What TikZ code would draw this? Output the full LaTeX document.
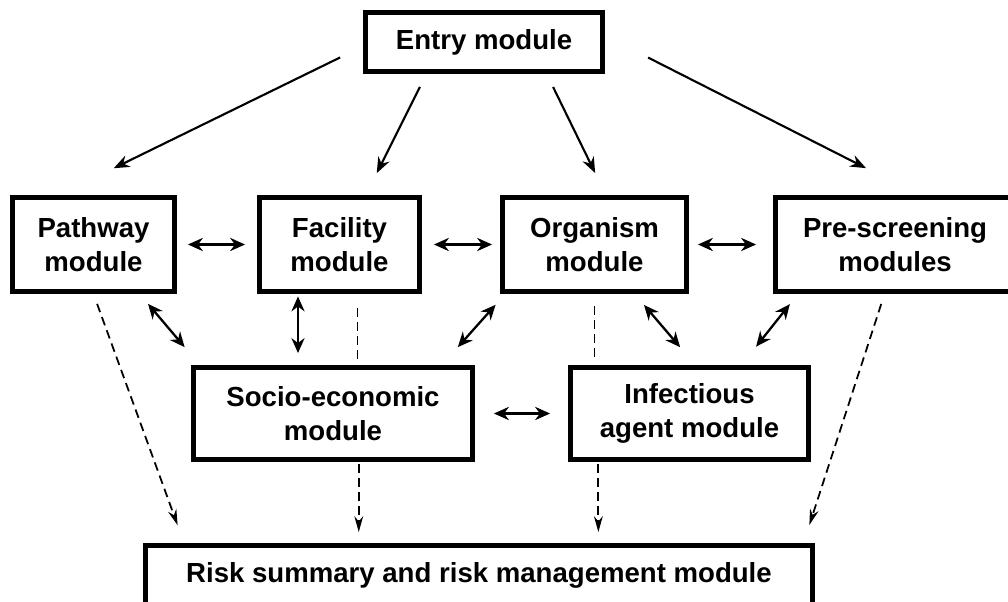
\documentclass[tikz,border=0pt]{standalone}
\usepackage{fontspec}
\setmainfont{Liberation Sans}
\usetikzlibrary{arrows.meta,calc}

\tikzset{
  module/.style={draw, rectangle, line width=2.8pt, align=center, inner sep=0pt,
    font=\bfseries\fontsize{15.7}{19.3}\selectfont},
  feed/.style={line width=1.2pt, -{Stealth[length=9pt,width=7pt]}},
  link/.style={line width=1.3pt, {Stealth[length=8.5pt,width=7.5pt]}-{Stealth[length=8.5pt,width=7.5pt]}},
  flow/.style={line width=1pt, dash pattern=on 5pt off 3pt, -{Stealth[length=9pt,width=5pt]}}
}

\begin{document}
\begin{tikzpicture}[x=0.02cm, y=-0.02cm]
    \useasboundingbox (0,0) rectangle (1008,602);

    \node (entry) [module, minimum width=4.74cm, minimum height=1.18cm] at (484,42) {Entry module};
    \node (pathway) [module, minimum width=3.24cm, minimum height=1.88cm] at (93.5,244.5) {Pathway\\module};
    \node (facility) [module, minimum width=3.20cm, minimum height=1.88cm] at (339.5,244.5) {Facility\\module};
    \node (organism) [module, minimum width=3.68cm, minimum height=1.88cm] at (594.5,244.5) {Organism\\module};
    \node (prescreen) [module, minimum width=4.78cm, minimum height=1.88cm] at (895,244.5) {Pre-screening\\modules};
    \node (socio) [module, minimum width=5.58cm, minimum height=1.84cm] at (333,413.5) {Socio-economic\\module};
    \node (infect) [module, minimum width=4.76cm, minimum height=1.84cm] at (689.5,413.5) {Infectious\\agent module};
    \node (risk) [module, minimum width=13.34cm, minimum height=1.18cm] at (479,575) {Risk summary and risk management module};

    % entry to the four modules
    \draw[feed, shorten <=0.51cm, shorten >=1.22cm] (entry.182) -- (pathway.125);
    \draw[feed, shorten <=0.29cm, shorten >=0.49cm] (entry.209) -- (facility.62);
    \draw[feed, shorten <=0.29cm, shorten >=0.49cm] (entry.333) -- (organism.77);
    \draw[feed, shorten <=0.97cm, shorten >=1.19cm] (entry.3) -- (prescreen.64);

    % two-way links
    \draw[link, shorten <=0.22cm, shorten >=0.24cm] (pathway) -- (facility);
    \draw[link, shorten <=0.24cm, shorten >=0.16cm] (facility) -- (organism);
    \draw[link, shorten <=0.18cm, shorten >=0.34cm] (organism) -- (prescreen);
    \draw[link, shorten <=0.38cm, shorten >=0.36cm] (socio) -- (infect);
    \draw[link, shorten <=0.26cm, shorten >=0.47cm] (pathway.313) -- (socio.160);
    \draw[link, shorten <=0.05cm, shorten >=0.24cm] (facility.230) -- (facility.230 |- socio.north);
    \draw[link, shorten <=0.29cm, shorten >=0.48cm] (organism.209) -- (socio.24);
    \draw[link, shorten <=0.29cm, shorten >=0.47cm] (organism.309) -- (infect.83);
    \draw[link, shorten <=0.26cm, shorten >=0.47cm] (prescreen.207) -- (infect.43);

    % dashed lines
    \draw[flow, -, shorten <=0.28cm, shorten >=0.1cm] (facility.290) -- (facility.290 |- socio.north);
    \draw[flow, -, shorten <=0.24cm, shorten >=0.14cm] (organism.south) -- (organism.south |- infect.north);
    \draw[flow, shorten <=0.21cm, shorten >=0.38cm] (pathway.south) -- ($(risk.north west)!0.061!(risk.north east)$);
    \draw[flow, shorten <=0.04cm, shorten >=0.22cm] (socio.298.9) -- (socio.298.9 |- risk.north);
    \draw[flow, shorten <=0.04cm, shorten >=0.22cm] (infect.208.3) -- (infect.208.3 |- risk.north);
    \draw[flow, shorten <=0.21cm, shorten >=0.38cm] (prescreen.258.6) -- ($(risk.north west)!0.983!(risk.north east)$);
\end{tikzpicture}
\end{document}
